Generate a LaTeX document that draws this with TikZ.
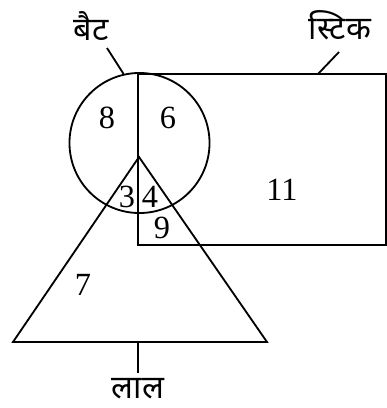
\documentclass[tikz,border=0pt]{standalone}
\usepackage{fontspec}
\setmainfont{Liberation Serif}
\newfontfamily\deva[Script=Devanagari]{Noto Sans}
\usetikzlibrary{positioning, calc}

\begin{document}
\begin{tikzpicture}[x=0.025cm, y=-0.025cm, line width=1.3pt,
      num/.style={inner sep=0pt, font=\fontsize{23}{27}\selectfont},
      lbl/.style={inner sep=0pt, font=\deva\fontsize{23}{27}\selectfont}]
    \useasboundingbox (0,0) rectangle (387,408);
    % sets
    \node[draw, circle, minimum size=3.5cm, inner sep=0pt] (bat) at (139.5,143) {};
    \coordinate (stk1) at (138,74); \coordinate (stk2) at (386,245);
    \draw (stk1) rectangle (stk2);
    \coordinate (apex) at (139,157);
    \coordinate (tl) at (13,342); \coordinate (tr) at (267,342);
    \draw (apex) -- (tl) -- (tr) -- cycle;
    % labels
    \node[lbl] (batlbl) at (91,26) {बैट};
    \node[lbl] (stklbl) at (340,25) {स्टिक};
    \node[lbl] (redlbl) at (138,389) {लाल};
    \coordinate (batpin) at (107,48);
    \coordinate (stkpin) at (339,52);   \coordinate (stkend) at (318,74);
    \coordinate (redpin) at (138,373);  \coordinate (redend) at (138,342);
    \draw (batpin) -- (bat.103);
    \draw (stkpin) -- (stkend);
    \draw (redpin) -- (redend);
    % counts
    \node[num] (n8) at (107,118) {8};
    \node[num] (n6) at (168,118) {6};
    \node[num] (n11) at (282,190) {11};
    \node[num] (n3) at (127,197) {3};
    \node[num] (n4) at (150,197) {4};
    \node[num] (n9) at (162,228) {9};
    \node[num] (n7) at (83,285) {7};
\end{tikzpicture}
\end{document}
